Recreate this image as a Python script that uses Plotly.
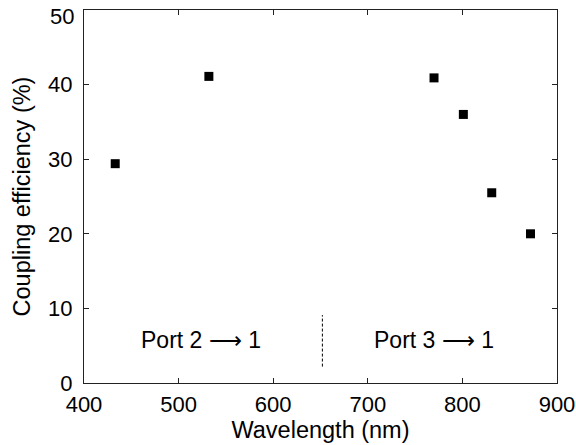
import plotly.graph_objects as go

wavelength = [433, 532, 770, 801, 831, 872]
efficiency = [29.4, 41.1, 40.9, 36.0, 25.5, 20.0]

divider_x = [652, 652]
divider_y = [2.2, 9.1]

labels = ["Port 2 \u27f6 1", "Port 3 \u27f6 1"]
label_x = [524, 770]
label_y = [5.8, 5.8]

y_ticks = [0, 10, 20, 30, 40, 50]
y_ticktext = ["0", "10", "20", "30", "40", ""]  # top label drawn below as annotation
x_ticks = [400, 500, 600, 700, 800, 900]

FONT = "Liberation Sans, Arial, sans-serif"

fig = go.Figure()
fig.add_trace(go.Scatter(x=wavelength, y=efficiency, mode="markers",
                         marker=dict(symbol="square", size=9, color="black"),
                         showlegend=False))
fig.add_trace(go.Scatter(x=divider_x, y=divider_y, mode="lines",
                         line=dict(color="black", width=1, dash="3px,2px"),
                         showlegend=False))
for t, x, y in zip(labels, label_x, label_y):
    fig.add_annotation(x=x, y=y, text=t, showarrow=False,
                       font=dict(family=FONT, size=23, color="black"))

# top y tick label, nudged down to stay inside the page
fig.add_annotation(xref="paper", x=0, y=y_ticks[-1], text=str(y_ticks[-1]),
                   showarrow=False, xanchor="right", yanchor="middle",
                   xshift=-8, yshift=-6,
                   font=dict(family=FONT, size=22, color="black"))

axis_common = dict(showline=True, linecolor="#222", linewidth=1, mirror="ticks",
                   ticks="inside", ticklen=5, tickcolor="#222", showgrid=False,
                   zeroline=False, ticklabeloverflow="allow", automargin=False,
                   tickfont=dict(family=FONT, size=22, color="black"))
fig.update_xaxes(range=[400, 900], tickvals=x_ticks,
                 ticklabelstandoff=2,
                 title=dict(text="Wavelength (nm)", font=dict(family=FONT, size=23.5, color="black"),
                            standoff=2),
                 **axis_common)
fig.update_yaxes(range=[0, 50], tickvals=y_ticks, ticktext=y_ticktext,
                 ticklabelstandoff=6,
                 title=dict(text="Coupling efficiency (%)", font=dict(family=FONT, size=23.5, color="black"),
                            standoff=10),
                 **axis_common)
fig.update_layout(width=576, height=445, plot_bgcolor="white", paper_bgcolor="white",
                  margin=dict(l=84, r=19, t=10, b=62))
fig.write_html("out.html")
